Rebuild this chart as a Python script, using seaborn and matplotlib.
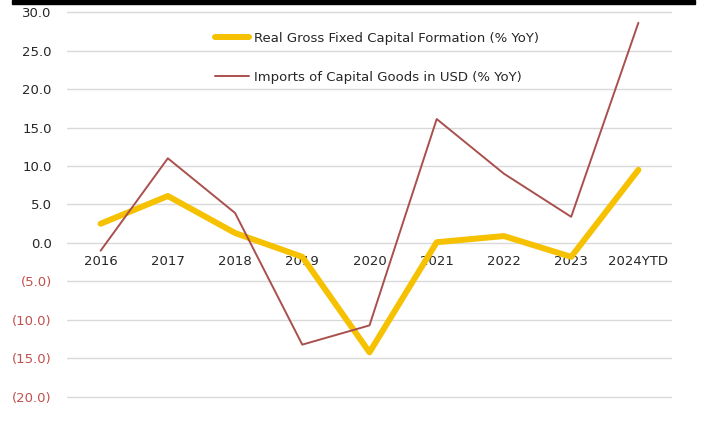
import matplotlib
matplotlib.use("Agg")
import matplotlib.pyplot as plt
from matplotlib.patches import Rectangle
import seaborn as sns
import pandas as pd

years = ["2016", "2017", "2018", "2019", "2020", "2021", "2022", "2023", "2024YTD"]
gfcf = [2.5, 6.1, 1.3, -1.8, -14.2, 0.1, 0.9, -1.8, 9.5]
imports = [-1.0, 11.0, 3.9, -13.2, -10.7, 16.1, 9.0, 3.4, 28.6]
series_names = ["Real Gross Fixed Capital Formation (% YoY)",
                "Imports of Capital Goods in USD (% YoY)"]
yticks = [30, 25, 20, 15, 10, 5, 0, -5, -10, -15, -20]

df = pd.DataFrame({
    "year": years * 2,
    "value": gfcf + imports,
    "series": [series_names[0]] * len(years) + [series_names[1]] * len(years),
})

sns.set_theme(style="white")
plt.rcParams["font.family"] = ["DejaVu Sans"]

fig = plt.figure(figsize=(7.02, 4.23), dpi=100)
# y range padded slightly so the outer gridlines are not clipped
ax = fig.add_axes([67 / 702, 23.7 / 423, 605 / 702, 389.6 / 423])

palette = {series_names[0]: "#F5C100", series_names[1]: "#A9504E"}
sns.lineplot(data=df, x="year", y="value", hue="series", palette=palette,
             sort=False, ax=ax, legend=False)
lines = ax.get_lines()
lines[0].set_linewidth(4.3)
lines[0].set_solid_capstyle("round")
lines[0].set_solid_joinstyle("round")
lines[1].set_linewidth(1.4)
lines[1].set_zorder(3)
lines[0].set_zorder(2)

ax.set_xlim(-0.5, len(years) - 0.5)
ax.set_ylim(-20.3, 30.3)
ax.set_yticks(yticks)
ax.set_yticklabels([f"{v:.1f}" if v >= 0 else f"({abs(v):.1f})" for v in yticks])
for lab, v in zip(ax.get_yticklabels(), yticks):
    lab.set_color("#C0504D" if v < 0 else "#262626")
    lab.set_fontsize(9.5)
ax.tick_params(axis="y", length=0, pad=11)

ax.yaxis.grid(True, color="#D9D9D9", linewidth=1)
ax.set_axisbelow(True)
for s in ax.spines.values():
    s.set_visible(False)
ax.spines["bottom"].set_position(("data", 0))
ax.tick_params(axis="x", length=0, pad=9, labelsize=9.5, labelcolor="#262626")
ax.set_xlabel("")
ax.set_ylabel("")

handles = [plt.Line2D([], [], color=palette[series_names[0]], linewidth=4.3,
                      solid_capstyle="round"),
           plt.Line2D([], [], color=palette[series_names[1]], linewidth=1.4)]
fig.legend(handles, series_names, loc="upper left",
           bbox_to_anchor=(203 / 702, 1 - 20 / 423), frameon=False,
           fontsize=9.5, labelspacing=1.95, handlelength=2.6, handletextpad=0.35,
           labelcolor="#262626")

fig.add_artist(Rectangle((12 / 702, 1 - 4 / 423), 683 / 702, 4 / 423,
                         transform=fig.transFigure, color="black", zorder=10))

fig.savefig("out.png", dpi=100, facecolor="white")
